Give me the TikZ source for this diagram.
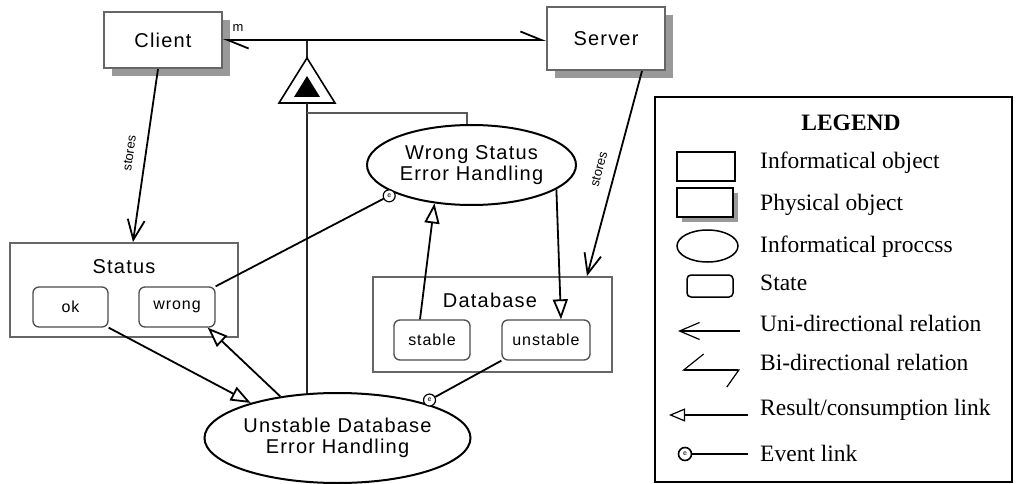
\documentclass[tikz,border=0pt]{standalone}
\usepackage{fontspec}
\setmainfont{Liberation Serif}
\newfontfamily\diafont[LetterSpace=6]{Liberation Sans}
\newfontfamily\lblfont{Liberation Sans}
\usetikzlibrary{arrows.meta,shapes.geometric,shadows,calc}
\tikzset{
  dtext/.style={font=\diafont\fontsize{20}{21}\selectfont},
  stext/.style={font=\diafont\fontsize{16}{18}\selectfont},
  ltext/.style={font=\fontsize{23.5}{26}\selectfont, anchor=west, inner sep=0pt},
  objbox/.style={draw=black!60, line width=2pt, fill=white, inner sep=0pt, dtext},
  physbox/.style={objbox, drop shadow={shadow xshift=8pt, shadow yshift=-8pt, fill=black!40, opacity=1}},
  statebox/.style={draw=black!70, line width=1.3pt, rounded corners=6pt, fill=white, inner sep=0pt, minimum height=40pt, stext},
  proc/.style={ellipse, draw=black, line width=2pt, fill=white, inner sep=0pt, align=center, font=\diafont\fontsize{20}{20.5}\selectfont},
  link/.style={line width=1.8pt, draw=black},
  uni/.style={link, -{Straight Barb[length=20pt, width=17pt]}},
  result/.style={link, -{Triangle[length=20pt, width=15pt, fill=white]}},
  bidir/.style={link, {Straight Barb[harpoon, length=21pt, width=17pt]}-{Straight Barb[harpoon, length=21pt, width=17pt]}},
  evt/.style={circle, draw=black, line width=1.2pt, fill=white, inner sep=0pt, minimum size=12pt, font=\sffamily\fontsize{8}{8}\selectfont},
  thinlink/.style={line width=1.3pt, draw=black!85},
  lbl/.style={font=\lblfont\fontsize{13}{13}\selectfont, inner sep=1pt},
  lsym/.style={draw=black, line width=1.5pt, fill=white, inner sep=0pt},
}
\begin{document}
\begin{tikzpicture}[x=1pt,y=1pt]
\useasboundingbox (0,0) rectangle (1018,-484);
\fill[white] (0,0) rectangle (1018,-484);

% objects
\node[physbox, minimum width=118pt, minimum height=56pt] (client) at (163,-40) {Client};
\node[physbox, minimum width=118pt, minimum height=63pt] (server) at (606,-38.5) {Server};
\node[objbox, minimum width=228pt, minimum height=94pt] (status) at (124,-290) {};
\node[dtext] (statusT) at (124,-267) {Status};
\node[statebox, minimum width=75pt] (ok) at (70.5,-307) {ok};
\node[statebox, minimum width=76pt] (wrong) at (177,-307) {wrong};
\node[objbox, minimum width=239pt, minimum height=95pt] (db) at (492.5,-324.5) {};
\node[dtext] (dbT) at (490,-300) {Database};
\node[statebox, minimum width=76pt] (stable) at (432,-340) {stable};
\node[statebox, minimum width=88pt] (unstable) at (546,-340) {unstable};

% processes
\node[proc, minimum width=209pt, minimum height=80pt] (ws) at (471.5,-165) {Wrong Status\\Error Handling};
\node[proc, minimum width=215pt, minimum height=90pt] (ud) at (337.5,-438) {Unstable Database\\Error Handling};

% aggregation triangle
\coordinate (junc) at (307,-40);
\coordinate (tritop) at (307,-58);
\coordinate (tribase) at (307,-103);
\coordinate (branch) at (307,-113);
\draw[thinlink] (junc) -- (tritop);
\draw[line width=1.6pt, fill=white] (tritop) -- (279,-103) -- (335,-103) -- cycle;
\fill (307,-76) -- (294,-97) -- (320,-97) -- cycle;
\draw[thinlink] (tribase) -- (tribase |- ud.125);
\draw[thinlink, draw=black!65] (branch) -| ($(ws.north)+(-4.5,0)$);

% client - server relation
\draw[bidir] (client.east) -- (client.east -| server.west);
\node[lbl] (mult) at (238,-28.5) {m};

% stores relations
\draw[uni] ($(client.south)+(-5,0)$) -- node[lbl, sloped, above=10pt] (cstores) {stores} ($(status.north)+(9,0)$);
\draw[uni] ($(server.south)+(36,0)$) -- node[lbl, sloped, above=10pt] (sstores) {stores} ($(db.north)+(94.5,0)$);

% result / consumption links
\draw[result] (ok.south east) -- (ud.158);
\draw[result] (ud.144) -- ($(wrong.south east)+(-8,0)$);
\draw[result] ($(stable.north)+(-12,0)$) -- (ws.226);
\draw[result] (ws.344) -- ($(unstable.north)+(15,0)$);

% event links
\node[evt] (ev1) at ($(ws.200)!6pt!(wrong.north east)$) {e};
\draw[link] (wrong.north east) -- (ev1);
\node[evt] (ev2) at ($(ud.22)!6pt!(unstable.south west)$) {e};
\draw[link] (unstable.south west) -- (ev2);

% legend
\node[draw=black, line width=1.5pt, minimum width=357pt, minimum height=385pt, inner sep=0pt] (legend) at (833.5,-289.5) {};
\node[font=\bfseries\fontsize{23.5}{26}\selectfont] (legendT) at (851,-123) {LEGEND};
\node[lsym, minimum width=58pt, minimum height=29pt] (lgInfo) at (706,-166.5) {};
\node[lsym, minimum width=56pt, minimum height=29pt, drop shadow={shadow xshift=5pt, shadow yshift=-5pt, fill=black!40, opacity=1}] (lgPhys) at (705,-202.5) {};
\node[lsym, ellipse, minimum width=61pt, minimum height=32pt] (lgProc) at (707.5,-246) {};
\node[lsym, rounded corners=4pt, minimum width=46pt, minimum height=22pt] (lgState) at (710,-286) {};
\coordinate (lgUa) at (740,-331);
\coordinate (lgUb) at (678,-331);
\draw[line width=1.2pt, -{Straight Barb[length=20pt,width=17pt]}] (lgUa) -- (lgUb);
\coordinate (lgBa) at (682,-370);
\coordinate (lgBb) at (740,-370);
\draw[line width=1.2pt, {Straight Barb[harpoon,swap,length=20pt,width=32pt]}-{Straight Barb[harpoon,swap,length=12pt,width=34pt]}] (lgBa) -- (lgBb);
\coordinate (lgRa) at (748,-415);
\coordinate (lgRb) at (669,-415);
\draw[line width=1.2pt, -{Triangle[length=16pt,width=13pt,fill=white]}] (lgRa) -- (lgRb);
\node[evt, minimum size=13pt, line width=1.6pt] (lgEv) at (685,-454) {e};
\coordinate (lgEa) at (748,-454);
\draw[line width=1.2pt] (lgEa) -- (lgEv);

\node[ltext] (lt1) at (760,-163) {Informatical object};
\node[ltext] (lt2) at (760,-205) {Physical object};
\node[ltext] (lt3) at (760,-247) {Informatical proccss};
\node[ltext] (lt4) at (760,-283) {State};
\node[ltext] (lt5) at (760,-323) {Uni-directional relation};
\node[ltext] (lt6) at (760,-362) {Bi-directional relation};
\node[ltext] (lt7) at (760,-410) {Result/consumption link};
\node[ltext] (lt8) at (760,-453) {Event link};
\end{tikzpicture}
\end{document}
